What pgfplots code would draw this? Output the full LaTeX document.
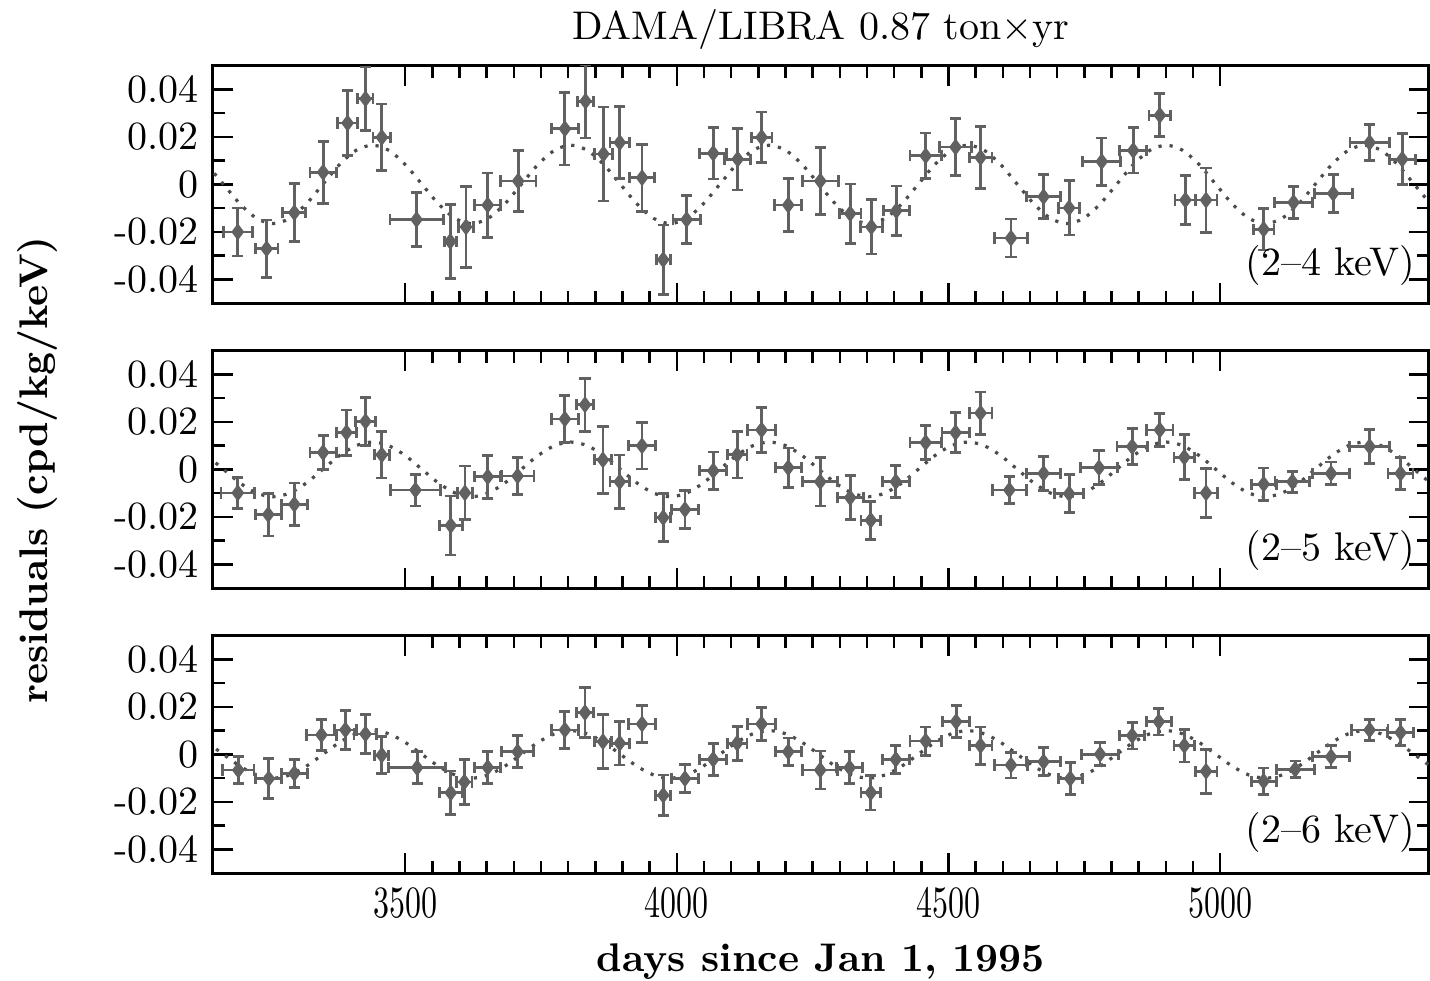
\documentclass[border=0pt]{standalone}
\usepackage{pgfplots}
\pgfplotsset{compat=1.18}
\usepackage{pgfplotstable}
\usepackage{graphicx}

% panel 1: 2-4 keV  (x, y, x-half-width, y-error)
\pgfplotstableread{
x y ex ey
3192 -0.0200 27 0.0101
3245 -0.0271 21 0.0121
3296 -0.0119 21 0.0123
3349 0.0051 24 0.0130
3394 0.0258 19 0.0137
3427 0.0360 14 0.0134
3457 0.0198 16 0.0140
3521 -0.0148 49 0.0113
3583 -0.0240 11 0.0157
3612 -0.0179 14 0.0170
3652 -0.0087 24 0.0135
3708 0.0014 33 0.0128
3794 0.0234 25 0.0152
3832 0.0350 15 0.0155
3865 0.0128 16 0.0198
3895 0.0176 18 0.0152
3936 0.0028 23 0.0141
3975 -0.0317 13 0.0146
4018 -0.0148 25 0.0102
4067 0.0131 25 0.0108
4112 0.0106 24 0.0130
4156 0.0198 19 0.0107
4205 -0.0087 25 0.0112
4264 0.0014 33 0.0141
4319 -0.0123 20 0.0125
4358 -0.0179 20 0.0114
4404 -0.0111 24 0.0104
4458 0.0120 29 0.0096
4513 0.0157 29 0.0120
4559 0.0113 21 0.0130
4615 -0.0226 31 0.0080
4675 -0.0052 31 0.0092
4722 -0.0099 19 0.0114
4782 0.0096 35 0.0099
4840 0.0143 25 0.0095
4889 0.0291 20 0.0090
4936 -0.0066 19 0.0104
4974 -0.0066 20 0.0135
5080 -0.0189 19 0.0087
5135 -0.0076 35 0.0068
5208 -0.0038 35 0.0080
5275 0.0176 36 0.0075
5335 0.0106 24 0.0108
}\dataA

% panel 2: 2-5 keV
\pgfplotstableread{
x y ex ey
3192 -0.0099 31 0.0065
3248 -0.0190 24 0.0090
3296 -0.0147 24 0.0090
3349 0.0071 24 0.0073
3392 0.0155 19 0.0095
3427 0.0202 18 0.0102
3457 0.0061 14 0.0097
3519 -0.0087 46 0.0067
3584 -0.0236 21 0.0124
3610 -0.0099 14 0.0113
3652 -0.0031 24 0.0090
3707 -0.0028 30 0.0078
3794 0.0212 25 0.0100
3831 0.0272 16 0.0111
3864 0.0040 16 0.0141
3895 -0.0052 18 0.0113
3936 0.0099 25 0.0097
3975 -0.0203 14 0.0102
4015 -0.0169 25 0.0080
4067 -0.0006 25 0.0079
4111 0.0061 18 0.0097
4156 0.0166 26 0.0095
4205 0.0007 24 0.0083
4264 -0.0052 32 0.0102
4319 -0.0119 24 0.0092
4357 -0.0214 18 0.0080
4403 -0.0052 25 0.0067
4458 0.0113 29 0.0073
4513 0.0155 25 0.0083
4559 0.0237 21 0.0089
4612 -0.0087 31 0.0056
4675 -0.0017 31 0.0071
4722 -0.0102 27 0.0079
4777 0.0007 34 0.0071
4838 0.0096 28 0.0076
4889 0.0166 24 0.0069
4934 0.0051 19 0.0095
4974 -0.0099 21 0.0102
5080 -0.0062 23 0.0068
5133 -0.0052 32 0.0044
5204 -0.0017 34 0.0048
5275 0.0096 37 0.0071
5332 -0.0017 23 0.0067
}\dataB

% panel 3: 2-6 keV
\pgfplotstableread{
x y ex ey
3193 -0.0066 29 0.0056
3249 -0.0102 24 0.0085
3296 -0.0080 24 0.0058
3346 0.0082 28 0.0066
3390 0.0103 20 0.0081
3427 0.0086 21 0.0081
3457 -0.0003 13 0.0078
3522 -0.0056 52 0.0067
3584 -0.0162 21 0.0092
3609 -0.0116 14 0.0095
3652 -0.0055 24 0.0067
3707 0.0011 29 0.0067
3794 0.0103 25 0.0078
3831 0.0176 15 0.0104
3864 0.0054 16 0.0113
3895 0.0047 18 0.0092
3936 0.0128 25 0.0079
3975 -0.0172 14 0.0085
4015 -0.0102 25 0.0058
4067 -0.0021 25 0.0068
4111 0.0047 18 0.0071
4156 0.0128 26 0.0069
4205 0.0011 24 0.0058
4264 -0.0066 32 0.0080
4318 -0.0056 24 0.0067
4357 -0.0161 18 0.0073
4403 -0.0021 25 0.0058
4458 0.0056 29 0.0059
4514 0.0138 25 0.0067
4559 0.0037 21 0.0078
4615 -0.0045 31 0.0054
4675 -0.0031 31 0.0059
4724 -0.0102 22 0.0068
4779 0.0001 34 0.0048
4838 0.0079 23 0.0056
4887 0.0138 23 0.0056
4934 0.0037 19 0.0069
4974 -0.0071 20 0.0093
5080 -0.0113 23 0.0056
5138 -0.0063 35 0.0035
5204 -0.0010 34 0.0046
5275 0.0103 34 0.0045
5332 0.0092 24 0.0055
}\dataC

% dotted fit curves (a: 2-4, b: 2-5, c: 2-6 keV)
\pgfplotstableread{
x a b c
3135.4 0.00825 0.00575 0.00500
3165.8 0 0 0
3196.3 -0.00825 -0.00575 -0.00500
3226.7 -0.01429 -0.00996 -0.00866
3257.1 -0.01650 -0.01150 -0.01000
3287.6 -0.01429 -0.00996 -0.00866
3318.0 -0.00825 -0.00575 -0.00500
3348.4 0 0 0
3378.9 0.00825 0.00575 0.00500
3409.3 0.01429 0.00996 0.00866
3439.8 0.01650 0.01150 0.01000
3470.2 0.01429 0.00996 0.00866
3500.6 0.00825 0.00575 0.00500
3531.1 0 0 0
3561.5 -0.00825 -0.00575 -0.00500
3591.9 -0.01429 -0.00996 -0.00866
3622.4 -0.01650 -0.01150 -0.01000
3652.8 -0.01429 -0.00996 -0.00866
3683.3 -0.00825 -0.00575 -0.00500
3713.7 0 0 0
3744.1 0.00825 0.00575 0.00500
3774.6 0.01429 0.00996 0.00866
3805.0 0.01650 0.01150 0.01000
3835.4 0.01429 0.00996 0.00866
3865.9 0.00825 0.00575 0.00500
3896.3 0 0 0
3926.8 -0.00825 -0.00575 -0.00500
3957.2 -0.01429 -0.00996 -0.00866
3987.6 -0.01650 -0.01150 -0.01000
4018.1 -0.01429 -0.00996 -0.00866
4048.5 -0.00825 -0.00575 -0.00500
4078.9 0 0 0
4109.4 0.00825 0.00575 0.00500
4139.8 0.01429 0.00996 0.00866
4170.3 0.01650 0.01150 0.01000
4200.7 0.01429 0.00996 0.00866
4231.1 0.00825 0.00575 0.00500
4261.6 0 0 0
4292.0 -0.00825 -0.00575 -0.00500
4322.4 -0.01429 -0.00996 -0.00866
4352.9 -0.01650 -0.01150 -0.01000
4383.3 -0.01429 -0.00996 -0.00866
4413.8 -0.00825 -0.00575 -0.00500
4444.2 0 0 0
4474.6 0.00825 0.00575 0.00500
4505.1 0.01429 0.00996 0.00866
4535.5 0.01650 0.01150 0.01000
4565.9 0.01429 0.00996 0.00866
4596.4 0.00825 0.00575 0.00500
4626.8 0 0 0
4657.3 -0.00825 -0.00575 -0.00500
4687.7 -0.01429 -0.00996 -0.00866
4718.1 -0.01650 -0.01150 -0.01000
4748.6 -0.01429 -0.00996 -0.00866
4779.0 -0.00825 -0.00575 -0.00500
4809.4 0 0 0
4839.9 0.00825 0.00575 0.00500
4870.3 0.01429 0.00996 0.00866
4900.8 0.01650 0.01150 0.01000
4931.2 0.01429 0.00996 0.00866
4961.6 0.00825 0.00575 0.00500
4992.1 0 0 0
5022.5 -0.00825 -0.00575 -0.00500
5052.9 -0.01429 -0.00996 -0.00866
5083.4 -0.01650 -0.01150 -0.01000
5113.8 -0.01429 -0.00996 -0.00866
5144.3 -0.00825 -0.00575 -0.00500
5174.7 0 0 0
5205.1 0.00825 0.00575 0.00500
5235.6 0.01429 0.00996 0.00866
5266.0 0.01650 0.01150 0.01000
5296.4 0.01429 0.00996 0.00866
5326.9 0.00825 0.00575 0.00500
5357.3 0 0 0
5387.8 -0.00825 -0.00575 -0.00500
5418.2 -0.01429 -0.00996 -0.00866
}\fit

\definecolor{ptcol}{gray}{0.38}
\definecolor{fitcol}{gray}{0.3}

\begin{document}
\begin{tikzpicture}
\pgfplotsset{
  panel/.style={
    width=304pt, height=59.4pt, scale only axis,
    xmin=3146, xmax=5384, ymin=-0.05, ymax=0.05,
    scaled y ticks=false, scaled x ticks=false,
    xtick={3500,4000,4500,5000},
    minor x tick num=9,
    ytick={-0.04,-0.02,0,0.02,0.04},
    yticklabels={-0.04,-0.02,0,0.02,0.04},
    minor y tick num=1,
    tick align=inside,
    major tick length=5pt, minor tick length=3pt,
    axis line style={line width=0.7pt},
    every tick/.style={black, line width=0.6pt},
    yticklabel style={font=\fontsize{10}{12}\selectfont},
    clip=true,
  },
  fitline/.style={dotted, line width=0.8pt, fitcol, smooth, no markers},
  pts/.style={
    only marks, mark=diamond*, mark size=1.8pt, color=ptcol,
    mark options={fill=ptcol, draw=ptcol},
    error bars/.cd,
      x dir=both, x explicit, y dir=both, y explicit,
      error bar style={line width=0.7pt, ptcol},
      error mark options={rotate=90, ptcol, line width=0.7pt, mark size=1.4pt},
  },
}
\begin{axis}[panel, at={(0pt,0pt)}, anchor=north west, xticklabel=\empty]
\addplot[fitline] table[x=x,y=a]{\fit};
\addplot[pts] table[x=x,y=y,x error=ex,y error=ey]{\dataA};
\node[anchor=east, inner sep=0pt] at (rel axis cs:0.989,0.16) {(2--4 keV)};
\end{axis}
\begin{axis}[panel, at={(0pt,-71.25pt)}, anchor=north west, xticklabel=\empty]
\addplot[fitline] table[x=x,y=b]{\fit};
\addplot[pts] table[x=x,y=y,x error=ex,y error=ey]{\dataB};
\node[anchor=east, inner sep=0pt] at (rel axis cs:0.989,0.16) {(2--5 keV)};
\end{axis}
\begin{axis}[panel, at={(0pt,-142.5pt)}, anchor=north west,
  xticklabels={\scalebox{0.8}[1.12]{3500},\scalebox{0.8}[1.12]{4000},\scalebox{0.8}[1.12]{4500},\scalebox{0.8}[1.12]{5000}}]
\addplot[fitline] table[x=x,y=c]{\fit};
\addplot[pts] table[x=x,y=y,x error=ex,y error=ey]{\dataC};
\node[anchor=east, inner sep=0pt] at (rel axis cs:0.989,0.17) {(2--6 keV)};
\end{axis}
\node at (152pt,8.9pt) {DAMA/LIBRA 0.87 ton$\times$yr};
\node[rotate=90, font=\bfseries] at (-43.7pt,-101.1pt) {residuals (cpd/kg/keV)};
\node[font=\bfseries] at (152pt,-224.1pt) {days since Jan 1, 1995};
\pgfresetboundingbox
\useasboundingbox (-53.2pt,16.4pt) rectangle (304.3pt,-228.8pt);
\end{tikzpicture}
\end{document}
